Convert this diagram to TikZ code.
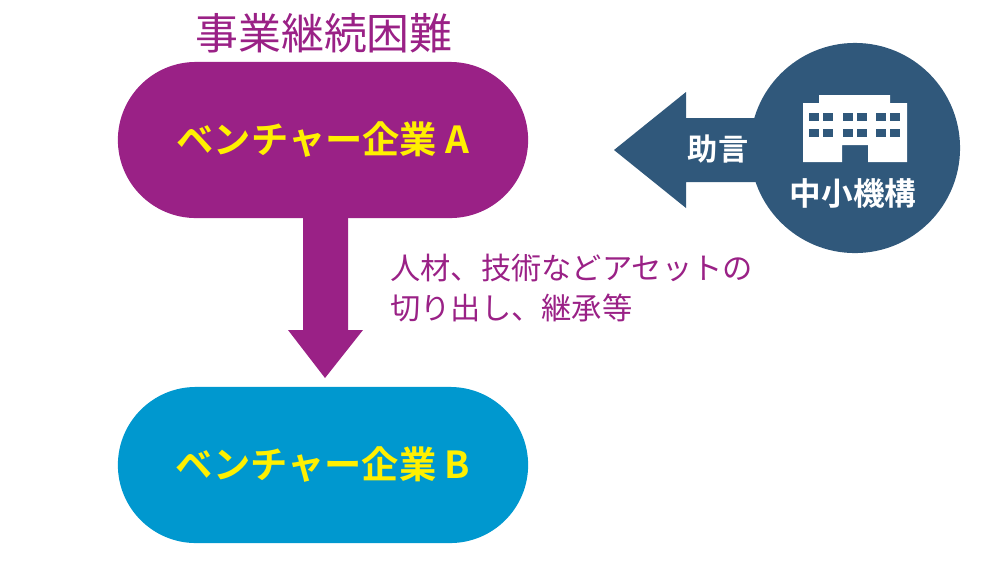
\documentclass[tikz,border=0pt]{standalone}
\usepackage{fontspec}
\setmainfont{Noto Sans CJK JP}
\newfontfamily\jpbold{Noto Sans CJK JP Bold}
\usetikzlibrary{shapes.misc}
\definecolor{venA}{HTML}{9A2186}
\definecolor{venB}{HTML}{0098CF}
\definecolor{smrj}{HTML}{30587B}
\definecolor{lblY}{HTML}{FFF000}
\tikzset{
  pill/.style={rounded rectangle, inner sep=0pt, minimum width=4.1cm, minimum height=1.56cm, text=lblY, font=\jpbold\fontsize{10.6}{12}\selectfont},
  note/.style={text=venA, font=\fontsize{8.6}{11.3}\selectfont, align=left},
}
\begin{document}
\begin{tikzpicture}[x=0.01cm,y=-0.01cm]
  \useasboundingbox (0,0) rectangle (1000,560);
  % companies
  \node[pill, fill=venA] (venA) at (323,140) {ベンチャー企業 A};
  \node[pill, fill=venB] (venB) at (323,465) {ベンチャー企業 B};
  \node[text=venA, font=\fontsize{12.2}{14}\selectfont] (title) at (324,33) {事業継続困難};
  % transfer arrow
  \fill[venA] (303,218) -- (348,218) -- (348,330) -- (363,330) -- (325,378) -- (288,330) -- (303,330) -- cycle;
  \node[note, anchor=west] (asset) at (378,288) {人材、技術などアセットの\\切り出し、継承等};
  % advice
  \fill[smrj] (760,118) -- (686,118) -- (686,92) -- (614,150) -- (686,208) -- (686,182) -- (760,182) -- cycle;
  \node[circle, fill=smrj, minimum size=2.1cm] (smrj) at (855,148) {};
  \node[text=white, font=\jpbold\fontsize{8.6}{10}\selectfont] (advice) at (718,149) {助言};
  \node[text=white, font=\jpbold\fontsize{9}{11}\selectfont] (org) at (853,193) {中小機構};
  % building icon
  \fill[white] (803,103) -- (819,103) -- (819,95) -- (890,95) -- (890,103) -- (907,103) -- (907,162) -- (868,162) -- (868,145) -- (842,145) -- (842,162) -- (803,162) -- cycle;
  \foreach \wx in {809,823,843,857,876,890}
    \foreach \wy in {113,129}
      \fill[smrj] (\wx,\wy) rectangle ++(10,8);
\end{tikzpicture}
\end{document}
